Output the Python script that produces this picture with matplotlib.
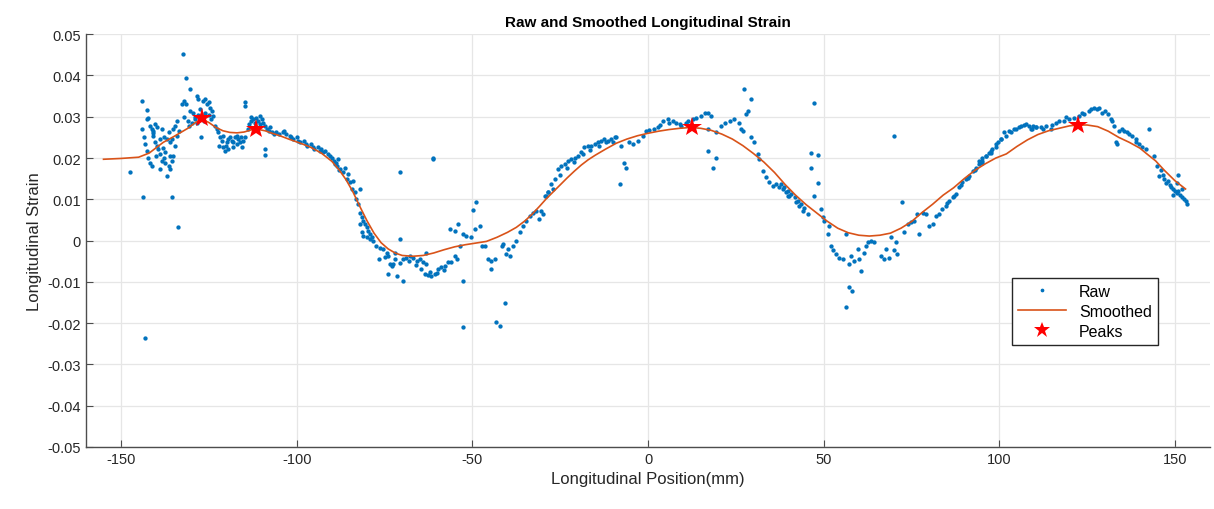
import matplotlib
matplotlib.use("Agg")
import matplotlib.pyplot as plt

plt.rcParams['font.family'] = ['Liberation Sans', 'DejaVu Sans']
plt.rcParams['axes.unicode_minus'] = False

# raw strain readings (position mm, strain)
raw_pts = [
    # -148 .. -133
    (-147.4, 0.0167), (-144.1, 0.0339), (-142.7, 0.0317), (-143.8, 0.0105), (-143.2, -0.0236),
    (-133.7, 0.0034), (-135.6, 0.0105),
    (-144.1, 0.0270), (-143.6, 0.0250), (-143.2, 0.0234), (-142.7, 0.0218), (-142.2, 0.0201),
    (-141.7, 0.0189), (-141.3, 0.0181), (-142.7, 0.0294), (-142.2, 0.0296), (-141.7, 0.0278),
    (-141.3, 0.0270), (-140.8, 0.0266), (-140.3, 0.0282), (-139.8, 0.0274), (-140.8, 0.0254),
    (-140.3, 0.0238), (-139.8, 0.0230), (-139.4, 0.0222), (-138.9, 0.0209), (-138.4, 0.0193),
    (-138.9, 0.0173), (-137.9, 0.0201), (-137.5, 0.0189), (-137.0, 0.0157), (-136.5, 0.0181),
    (-136.0, 0.0173), (-135.6, 0.0193), (-135.1, 0.0205), (-136.0, 0.0238), (-135.6, 0.0246),
    (-135.1, 0.0270), (-134.6, 0.0278), (-134.2, 0.0254), (-134.6, 0.0230), (-137.0, 0.0246),
    (-137.9, 0.0250), (-138.4, 0.0270), (-136.5, 0.0262), (-141.0, 0.0260), (-139.0, 0.0245),
    (-137.5, 0.0215), (-136.0, 0.0205), (-134.0, 0.0290), (-133.5, 0.0265), (-140.0, 0.0205),
    (-138.0, 0.0225),
    # -133 .. -122
    (-132.3, 0.0453), (-131.6, 0.0393), (-130.4, 0.0367),
    (-132.7, 0.0331), (-132.1, 0.0339), (-131.5, 0.0331), (-130.4, 0.0314), (-129.4, 0.0310),
    (-128.5, 0.0351), (-128.0, 0.0343), (-127.5, 0.0318), (-126.6, 0.0339), (-126.1, 0.0343),
    (-125.6, 0.0331), (-125.1, 0.0335), (-124.7, 0.0322), (-124.2, 0.0314), (-128.9, 0.0294),
    (-129.9, 0.0286), (-130.8, 0.0278), (-127.3, 0.0252), (-123.7, 0.0302), (-123.3, 0.0278),
    (-122.8, 0.0270), (-129.0, 0.0300), (-128.0, 0.0305), (-127.0, 0.0300), (-126.0, 0.0310),
    (-125.0, 0.0305), (-124.5, 0.0295), (-126.5, 0.0290), (-128.5, 0.0285), (-131.0, 0.0290),
    (-132.0, 0.0300),
    # -122 .. -114
    (-122.3, 0.0262), (-121.8, 0.0250), (-121.4, 0.0242), (-120.9, 0.0226), (-120.4, 0.0218),
    (-119.9, 0.0238), (-119.5, 0.0246), (-119.0, 0.0250), (-118.5, 0.0242), (-118.0, 0.0238),
    (-117.6, 0.0250), (-117.1, 0.0254), (-116.6, 0.0246), (-116.1, 0.0238), (-115.7, 0.0226),
    (-115.2, 0.0242), (-114.7, 0.0250), (-121.0, 0.0254), (-120.0, 0.0230), (-118.0, 0.0226),
    (-117.0, 0.0234), (-116.0, 0.0250), (-119.5, 0.0222), (-122.0, 0.0230),
    (-114.7, 0.0336), (-114.7, 0.0325),
    # -114 .. -106
    (-114.0, 0.0270), (-113.5, 0.0282), (-113.0, 0.0290), (-112.5, 0.0294), (-112.0, 0.0286),
    (-111.5, 0.0298), (-111.0, 0.0290), (-110.5, 0.0282), (-110.0, 0.0294), (-109.5, 0.0286),
    (-109.0, 0.0278), (-108.5, 0.0270), (-108.0, 0.0266), (-107.5, 0.0274), (-107.0, 0.0262),
    (-106.5, 0.0258), (-113.0, 0.0300), (-110.5, 0.0303), (-109.0, 0.0223), (-109.0, 0.0207),
    # -106 .. -88
    (-106.0, 0.0262), (-105.0, 0.0258), (-104.0, 0.0262), (-103.5, 0.0266), (-103.0, 0.0258),
    (-102.0, 0.0254), (-101.5, 0.0250), (-101.0, 0.0246), (-100.0, 0.0250), (-99.5, 0.0242),
    (-99.0, 0.0238), (-98.0, 0.0242), (-97.5, 0.0234), (-97.0, 0.0230), (-96.0, 0.0234),
    (-95.5, 0.0226), (-95.0, 0.0222), (-94.0, 0.0226), (-93.5, 0.0218), (-93.0, 0.0222),
    (-92.5, 0.0214), (-92.0, 0.0218), (-91.0, 0.0210), (-90.5, 0.0205), (-90.0, 0.0201),
    (-89.5, 0.0193), (-89.0, 0.0185), (-88.5, 0.0180), (-88.0, 0.0170),
    # -89 .. -70
    (-88.7, 0.0189), (-87.7, 0.0173), (-86.8, 0.0165), (-85.8, 0.0149), (-84.9, 0.0141),
    (-84.4, 0.0125), (-83.5, 0.0117), (-83.0, 0.0100), (-82.5, 0.0088), (-82.0, 0.0068),
    (-81.5, 0.0056), (-81.1, 0.0048), (-80.6, 0.0040), (-80.1, 0.0032), (-79.7, 0.0024),
    (-79.2, 0.0016), (-78.7, 0.0008), (-78.2, 0.0000),
    (-88.2, 0.0197), (-86.3, 0.0177), (-85.3, 0.0161), (-83.9, 0.0145), (-82.0, 0.0125),
    (-82.0, 0.0040), (-81.5, 0.0020), (-81.1, 0.0012), (-80.1, 0.0008), (-79.2, 0.0004),
    (-77.3, -0.0013), (-76.3, -0.0017), (-75.4, -0.0021), (-74.4, -0.0029), (-74.0, -0.0037),
    (-73.5, -0.0057), (-73.0, -0.0061), (-72.6, -0.0057), (-72.1, -0.0045), (-74.0, -0.0081),
    (-71.6, -0.0085), (-69.7, -0.0097), (-70.7, 0.0004),
    (-70.7, 0.0165), (-61.2, 0.0201), (-61.2, 0.0197),
    # -70 .. -54
    (-69.7, -0.0045), (-68.8, -0.0041), (-67.8, -0.0037), (-66.9, -0.0041), (-65.9, -0.0049),
    (-65.0, -0.0045), (-64.0, -0.0053), (-63.1, -0.0057), (-63.5, -0.0081), (-62.6, -0.0083),
    (-61.7, -0.0085), (-60.7, -0.0081), (-59.8, -0.0069), (-58.8, -0.0065), (-57.9, -0.0061),
    (-56.9, -0.0053), (-56.0, -0.0053), (-55.0, -0.0037), (-54.5, -0.0045), (-63.1, -0.0029),
    (-68.0, -0.0050), (-66.0, -0.0060), (-64.5, -0.0070), (-62.0, -0.0075), (-60.0, -0.0078),
    (-58.0, -0.0072), (-70.5, -0.0055), (-72.0, -0.0030), (-75.0, -0.0040), (-76.5, -0.0045),
    # -54 .. -28
    (-52.7, -0.0097), (-52.7, -0.0210),
    (-56.4, 0.0028), (-55.0, 0.0024), (-54.1, 0.0040), (-52.7, 0.0016), (-51.7, 0.0012),
    (-50.3, 0.0008), (-49.8, 0.0074), (-48.9, 0.0094), (-49.3, 0.0028), (-47.9, 0.0036),
    (-47.4, -0.0012), (-46.5, -0.0012), (-53.6, -0.0012),
    (-45.5, -0.0045), (-44.6, -0.0049), (-43.7, -0.0045), (-44.6, -0.0069),
    (-43.2, -0.0198), (-42.2, -0.0206), (-40.8, -0.0152),
    (-41.7, -0.0012), (-41.3, -0.0008), (-40.3, -0.0033), (-39.4, -0.0037), (-39.8, -0.0021),
    (-38.4, -0.0012), (-37.5, 0.0000), (-36.5, 0.0020), (-35.6, 0.0036), (-34.6, 0.0048),
    (-33.7, 0.0060), (-32.7, 0.0068), (-31.8, 0.0072), (-30.9, 0.0052), (-29.9, 0.0064),
    (-29.0, 0.0109), (-28.5, 0.0117),
    # -31 .. -9
    (-30.4, 0.0072), (-29.4, 0.0109), (-28.5, 0.0117), (-27.5, 0.0137), (-26.6, 0.0149),
    (-25.6, 0.0173), (-24.7, 0.0181), (-23.7, 0.0185), (-22.8, 0.0193), (-21.8, 0.0197),
    (-20.9, 0.0201), (-19.9, 0.0205), (-19.0, 0.0214), (-18.1, 0.0226), (-17.1, 0.0230),
    (-16.2, 0.0230), (-15.2, 0.0234), (-14.3, 0.0238), (-13.3, 0.0242), (-12.4, 0.0246),
    (-11.4, 0.0242), (-10.5, 0.0246), (-9.5, 0.0250), (-9.0, 0.0250),
    (-27.0, 0.0125), (-25.0, 0.0160), (-23.0, 0.0175), (-21.0, 0.0190), (-18.5, 0.0210),
    (-16.5, 0.0220), (-14.0, 0.0230), (-12.0, 0.0238), (-10.0, 0.0240),
    (-8.1, 0.0137), (-6.7, 0.0189), (-6.4, 0.0177), (-7.6, 0.0228),
    # -6 .. 40
    (-5.3, 0.0238), (-4.3, 0.0234), (-2.9, 0.0242), (-1.5, 0.0254), (-0.5, 0.0266),
    (0.4, 0.0268), (1.8, 0.0270), (2.8, 0.0274), (4.2, 0.0290), (5.6, 0.0294), (7.1, 0.0290),
    (8.0, 0.0286), (9.0, 0.0282), (10.9, 0.0285), (12.7, 0.0294), (13.7, 0.0298), (15.1, 0.0302),
    (16.1, 0.0310), (17.0, 0.0310), (18.0, 0.0302), (17.0, 0.0270), (19.4, 0.0262), (20.8, 0.0278),
    (21.8, 0.0286), (23.2, 0.0290), (24.6, 0.0294), (26.0, 0.0286), (26.5, 0.0270), (27.0, 0.0266),
    (17.0, 0.0218), (19.4, 0.0201), (18.4, 0.0177), (27.4, 0.0367), (29.3, 0.0344), (28.4, 0.0314),
    (27.9, 0.0306), (29.3, 0.0250), (30.3, 0.0238), (31.2, 0.0210), (31.7, 0.0198), (32.7, 0.0169),
    (33.6, 0.0153), (34.5, 0.0141), (35.5, 0.0133), (36.4, 0.0137), (37.4, 0.0129), (38.3, 0.0125),
    (39.3, 0.0117), (39.8, 0.0109),
    (3.5, 0.0280), (6.0, 0.0285), (9.5, 0.0278), (11.5, 0.0290),
    # 37 .. 72
    (47.3, 0.0333), (46.4, 0.0213), (48.3, 0.0207), (46.4, 0.0175), (48.3, 0.0139), (47.3, 0.0109),
    (49.2, 0.0076), (49.7, 0.0056), (50.2, 0.0048), (51.1, 0.0016), (51.6, 0.0036),
    (37.9, 0.0137), (38.8, 0.0129), (39.8, 0.0121), (40.7, 0.0113), (41.7, 0.0105), (42.6, 0.0097),
    (43.6, 0.0088), (44.5, 0.0080), (45.5, 0.0064), (44.0, 0.0072), (40.2, 0.0109), (42.1, 0.0093),
    (43.1, 0.0084),
    (52.1, -0.0012), (52.6, -0.0024), (53.5, -0.0033), (54.5, -0.0041), (55.4, -0.0045),
    (57.3, -0.0057), (57.8, -0.0037), (58.7, -0.0049), (59.7, -0.0020), (60.1, -0.0045),
    (60.6, -0.0073), (61.6, -0.0029), (62.0, -0.0012), (62.5, -0.0004), (63.5, 0.0000),
    (64.4, -0.0004), (56.3, 0.0016), (66.3, -0.0037), (67.2, -0.0045), (67.7, -0.0020),
    (68.7, -0.0041), (70.1, -0.0024), (71.0, -0.0033), (70.6, -0.0004), (69.1, 0.0008),
    (57.3, -0.0113), (58.2, -0.0121), (56.3, -0.0162),
    (70.1, 0.0254), (72.3, 0.0094),
    # 72 .. 111
    (72.9, 0.0020), (73.9, 0.0040), (74.8, 0.0044), (75.8, 0.0048), (77.2, 0.0016), (76.7, 0.0064),
    (78.2, 0.0068), (79.1, 0.0064), (80.0, 0.0036), (81.0, 0.0040), (81.9, 0.0060), (82.9, 0.0064),
    (83.8, 0.0076), (84.8, 0.0084), (85.7, 0.0097), (86.7, 0.0105), (87.6, 0.0113), (88.6, 0.0129),
    (89.5, 0.0141), (90.5, 0.0149), (91.4, 0.0157), (92.4, 0.0169), (93.3, 0.0177), (94.3, 0.0185),
    (95.2, 0.0193), (96.2, 0.0205), (97.1, 0.0213), (98.0, 0.0222), (99.0, 0.0234), (100.4, 0.0246),
    (101.4, 0.0262), (102.8, 0.0266), (104.2, 0.0270), (105.6, 0.0274), (107.1, 0.0280),
    (108.5, 0.0278), (109.4, 0.0270), (110.4, 0.0274),
    (85.0, 0.0090), (87.0, 0.0108), (89.0, 0.0135), (91.0, 0.0152), (93.0, 0.0172), (95.0, 0.0188),
    (97.5, 0.0216), (99.5, 0.0238),
    # 94 .. 146
    (94.3, 0.0193), (95.2, 0.0201), (96.2, 0.0205), (97.6, 0.0213), (99.0, 0.0226), (100.4, 0.0246),
    (101.8, 0.0254), (103.3, 0.0262), (104.7, 0.0270), (106.1, 0.0278), (107.5, 0.0282),
    (108.9, 0.0270), (110.4, 0.0274), (111.8, 0.0274), (113.2, 0.0278), (114.6, 0.0270),
    (116.1, 0.0286), (117.0, 0.0290), (118.4, 0.0290), (119.9, 0.0294), (121.3, 0.0298),
    (122.7, 0.0302), (124.1, 0.0306), (125.5, 0.0314), (127.0, 0.0322), (127.9, 0.0318),
    (129.3, 0.0310), (130.8, 0.0306), (131.7, 0.0294), (132.2, 0.0290), (132.6, 0.0278),
    (133.1, 0.0238), (133.6, 0.0234), (134.1, 0.0266), (135.5, 0.0266), (136.4, 0.0262),
    (137.9, 0.0254), (138.8, 0.0246), (139.8, 0.0234), (140.7, 0.0226), (141.7, 0.0222),
    (142.6, 0.0270), (144.0, 0.0205), (145.0, 0.0181), (145.4, 0.0157),
    (109.5, 0.0278), (112.5, 0.0270), (115.0, 0.0280), (119.0, 0.0300), (123.5, 0.0310),
    (126.0, 0.0318), (128.5, 0.0322), (130.0, 0.0315), (134.8, 0.0270), (137.0, 0.0258),
    (139.0, 0.0240),
    # 146 .. 154
    (146.0, 0.0170), (146.5, 0.0160), (147.0, 0.0150), (147.5, 0.0140), (148.0, 0.0145),
    (148.5, 0.0135), (149.0, 0.0130), (149.5, 0.0125), (150.0, 0.0120), (150.5, 0.0115),
    (151.0, 0.0160), (151.5, 0.0110), (152.0, 0.0105), (152.5, 0.0100), (153.0, 0.0095),
    (153.5, 0.0088), (151.0, 0.0120), (152.0, 0.0125), (149.5, 0.0110), (150.5, 0.0140),
]
raw_x = [p[0] for p in raw_pts]
raw_y = [p[1] for p in raw_pts]

# smoothed curve
smooth_x = [-155, -150, -145, -142, -140, -138, -135, -133, -131, -129, -127, -125, -123,
            -121, -119, -117, -115, -113, -111.4, -109, -107, -104.8, -102, -99, -96, -93,
            -90, -88, -86, -84, -82, -80, -78, -76, -74, -72, -70, -67, -64, -61, -58, -55,
            -52, -49, -46, -43, -40, -37.5, -35, -33, -31, -29, -27, -25, -23, -21, -19,
            -17, -15, -12, -9, -6, -3, 0, 3, 6, 9, 12, 15, 18, 21, 24, 27, 30, 33, 36, 39,
            42, 45, 48, 51, 54, 57, 60, 63, 66, 69, 72, 75, 78, 81, 84, 87, 90, 93, 96, 99,
            102, 105, 108, 111, 114, 117, 120, 122.5, 125, 128, 131, 134, 137, 140, 142,
            144.5, 147, 150, 153]
smooth_y = [0.0197, 0.0199, 0.0202, 0.0212, 0.0225, 0.0238, 0.0252, 0.0262, 0.0272, 0.0285,
            0.0294, 0.0286, 0.0274, 0.0266, 0.0262, 0.0261, 0.0263, 0.0268, 0.0270, 0.0266,
            0.0260, 0.0254, 0.0245, 0.0236, 0.0226, 0.0212, 0.0192, 0.0172, 0.0148, 0.0118,
            0.0082, 0.0048, 0.0018, -0.0005, -0.0020, -0.0030, -0.0036, -0.0038, -0.0036,
            -0.0030, -0.0022, -0.0015, -0.0010, -0.0006, -0.0002, 0.0008, 0.0020, 0.0032,
            0.0048, 0.0064, 0.0082, 0.0101, 0.0118, 0.0135, 0.0152, 0.0168, 0.0183, 0.0196,
            0.0207, 0.0222, 0.0236, 0.0246, 0.0254, 0.0260, 0.0265, 0.0269, 0.0272, 0.0274,
            0.0272, 0.0267, 0.0258, 0.0246, 0.0230, 0.0211, 0.0190, 0.0165, 0.0136, 0.0110,
            0.0087, 0.0067, 0.0047, 0.0030, 0.0019, 0.0013, 0.0011, 0.0013, 0.0018, 0.0030,
            0.0046, 0.0068, 0.0088, 0.0110, 0.0128, 0.0150, 0.0170, 0.0186, 0.0200, 0.0210,
            0.0228, 0.0244, 0.0257, 0.0266, 0.0272, 0.0278, 0.0280, 0.0280, 0.0276, 0.0265,
            0.0250, 0.0238, 0.0224, 0.0210, 0.0193, 0.0170, 0.0145, 0.0125]

peak_x = [-127.0, -111.5, 12.6, 122.5]
peak_y = [0.0296, 0.0271, 0.0274, 0.0279]

fig = plt.figure(figsize=(12.14, 5.10), dpi=100)
ax = fig.add_axes([0.0708, 0.1216, 0.926, 0.8094])

ax.plot(raw_x, raw_y, '.', color='#0072BD', markersize=4.2, label='Raw')
ax.plot(smooth_x, smooth_y, '-', color='#D95319', linewidth=1.2, label='Smoothed')
ax.plot(peak_x, peak_y, '*', color='#FF0000', markersize=15, markeredgewidth=0, label='Peaks')

ax.set_xlim(-160, 160)
ax.set_ylim(-0.05, 0.05)
ax.set_xticks([-150, -100, -50, 0, 50, 100, 150])
ax.set_yticks([-0.05, -0.04, -0.03, -0.02, -0.01, 0, 0.01, 0.02, 0.03, 0.04, 0.05])
ax.set_yticklabels(['-0.05', '-0.04', '-0.03', '-0.02', '-0.01', '0', '0.01', '0.02',
                    '0.03', '0.04', '0.05'])
ax.grid(True, color='#e6e6e6', linewidth=0.9)
ax.set_axisbelow(True)
for s in ['top', 'right']:
    ax.spines[s].set_visible(False)
for s in ['left', 'bottom']:
    ax.spines[s].set_color('#4d4d4d')
    ax.spines[s].set_linewidth(1.0)
ax.tick_params(direction='in', length=5, colors='#4d4d4d', labelcolor='#262626', labelsize=10.5)

ax.set_title('Raw and Smoothed Longitudinal Strain', fontsize=11, fontweight='bold', pad=6)
ax.set_xlabel('Longitudinal Position(mm)', fontsize=12, color='#262626', labelpad=4)
ax.set_ylabel('Longitudinal Strain', fontsize=12, color='#262626', labelpad=4)

leg = ax.legend(loc='lower right', bbox_to_anchor=(0.954, 0.247), borderaxespad=0,
                fontsize=11.5, fancybox=False, framealpha=1, edgecolor='#262626',
                borderpad=0.4, handlelength=3.0, labelspacing=0.3, markerscale=0.8)
leg.get_frame().set_linewidth(1.0)

fig.savefig('out.png', dpi=100)
